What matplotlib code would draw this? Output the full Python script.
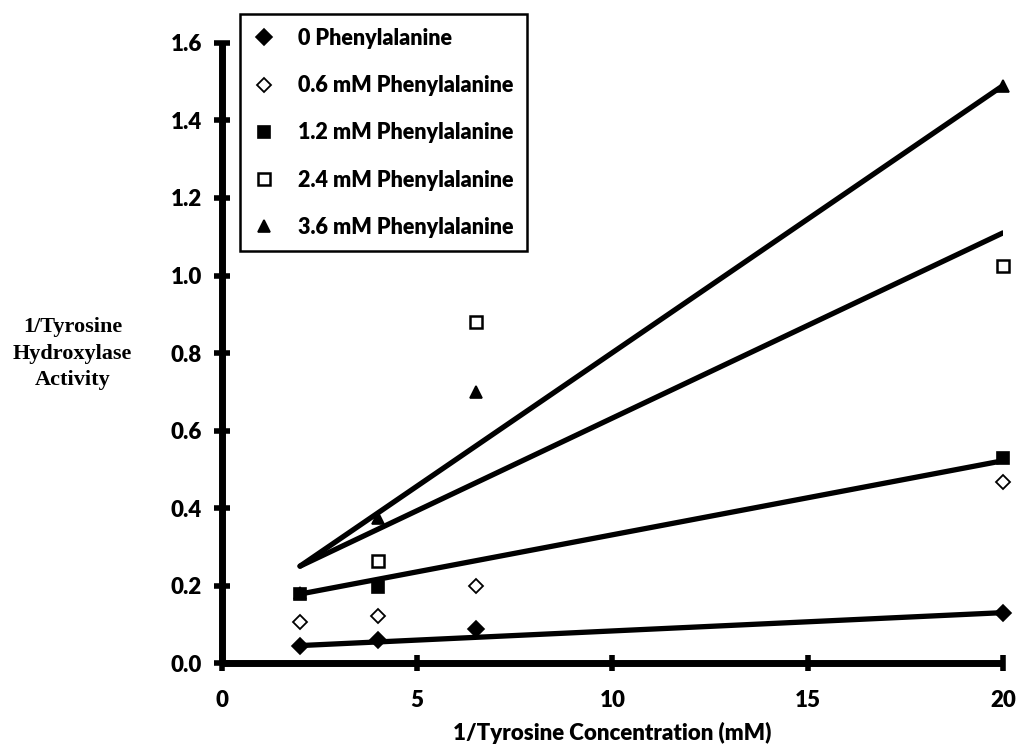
import matplotlib
matplotlib.use("Agg")
import matplotlib.pyplot as plt

# Lineweaver-Burk style data: 1/[tyrosine] vs 1/activity
series_labels = ["0 Phenylalanine", "0.6 mM Phenylalanine", "1.2 mM Phenylalanine",
                 "2.4 mM Phenylalanine", "3.6 mM Phenylalanine"]
x_vals = [2, 4, 6.5, 20]
y_phe_0 = [0.043, 0.060, 0.087, 0.128]
y_phe_06 = [0.105, 0.122, 0.200, 0.468]
y_phe_12 = [0.177, 0.197, None, 0.528]
y_phe_24 = [None, 0.263, 0.880, 1.025]
y_phe_36 = [0.180, 0.375, 0.700, 1.490]

# Fitted lines (endpoints at x = 2 and x = 20)
fit_x = [2, 20]
fit_phe_0 = [0.045, 0.130]
fit_phe_12 = [0.178, 0.522]
fit_phe_24 = [0.250, 1.110]
fit_phe_36 = [0.250, 1.490]

x_ticks = [0, 5, 10, 15, 20]
y_ticks = [0.0, 0.2, 0.4, 0.6, 0.8, 1.0, 1.2, 1.4, 1.6]

sans = ["Lato", "DejaVu Sans"]
serif = ["Liberation Serif", "DejaVu Serif"]

fig = plt.figure(figsize=(10.2, 7.49), dpi=100)
ax = fig.add_axes([0.2176, 0.1148, 0.7657, 0.8278])

def pts(ys):
    xs = [x for x, y in zip(x_vals, ys) if y is not None]
    vs = [y for y in ys if y is not None]
    return xs, vs

lw = 3.8
for fy in (fit_phe_0, fit_phe_12, fit_phe_24, fit_phe_36):
    ax.plot(fit_x, fy, color="black", lw=lw, solid_capstyle="round", zorder=2)

styles = [
    dict(marker="D", ms=8, mfc="black", mec="black", mew=1.2),
    dict(marker="D", ms=7.5, mfc="white", mec="black", mew=1.3),
    dict(marker="s", ms=9, mfc="black", mec="black", mew=1.2),
    dict(marker="s", ms=9, mfc="white", mec="black", mew=1.8),
    dict(marker="^", ms=9, mfc="black", mec="black", mew=1.2),
]
handles = []
for ys, st, lab in zip([y_phe_0, y_phe_06, y_phe_12, y_phe_24, y_phe_36], styles, series_labels):
    xs, vs = pts(ys)
    h, = ax.plot(xs, vs, ls="none", clip_on=False, zorder=3, label=lab, **st)
    handles.append(h)

ax.set_xlim(0, 20)
ax.set_ylim(0, 1.6)
for s in ("top", "right"):
    ax.spines[s].set_visible(False)
for s in ("left", "bottom"):
    ax.spines[s].set_linewidth(5)
    ax.spines[s].set_capstyle("butt")

ax.set_xticks(x_ticks)
ax.set_xticklabels([str(t) for t in x_ticks], fontfamily=sans, fontsize=16, fontweight="heavy")
ax.set_yticks(y_ticks)
ax.set_yticklabels([f"{t:.1f}" for t in y_ticks], fontfamily=sans, fontsize=16, fontweight="heavy")
ax.tick_params(axis="both", direction="inout", length=11, width=4, color="black")
ax.tick_params(axis="x", pad=14)
ax.tick_params(axis="y", pad=9)

ax.set_xlabel("1/Tyrosine Concentration (mM)", fontfamily=sans, fontsize=16,
              fontweight="heavy", labelpad=8)
fig.text(0.071, 0.528, "1/Tyrosine\nHydroxylase\nActivity", ha="center", va="center",
         fontfamily=serif, fontsize=16, fontweight="bold", linespacing=1.45)

leg = ax.legend(handles=handles, loc="upper left", bbox_to_anchor=(0.023, 1.046),
                frameon=True, fancybox=False, edgecolor="black", framealpha=1,
                prop=dict(family=sans, size=15.5, weight="heavy"), handlelength=1.0,
                handletextpad=1.1, labelspacing=1.22, borderpad=0.62, borderaxespad=0)
leg.get_frame().set_linewidth(1.8)

fig.savefig("out.png", dpi=100, facecolor="white")
